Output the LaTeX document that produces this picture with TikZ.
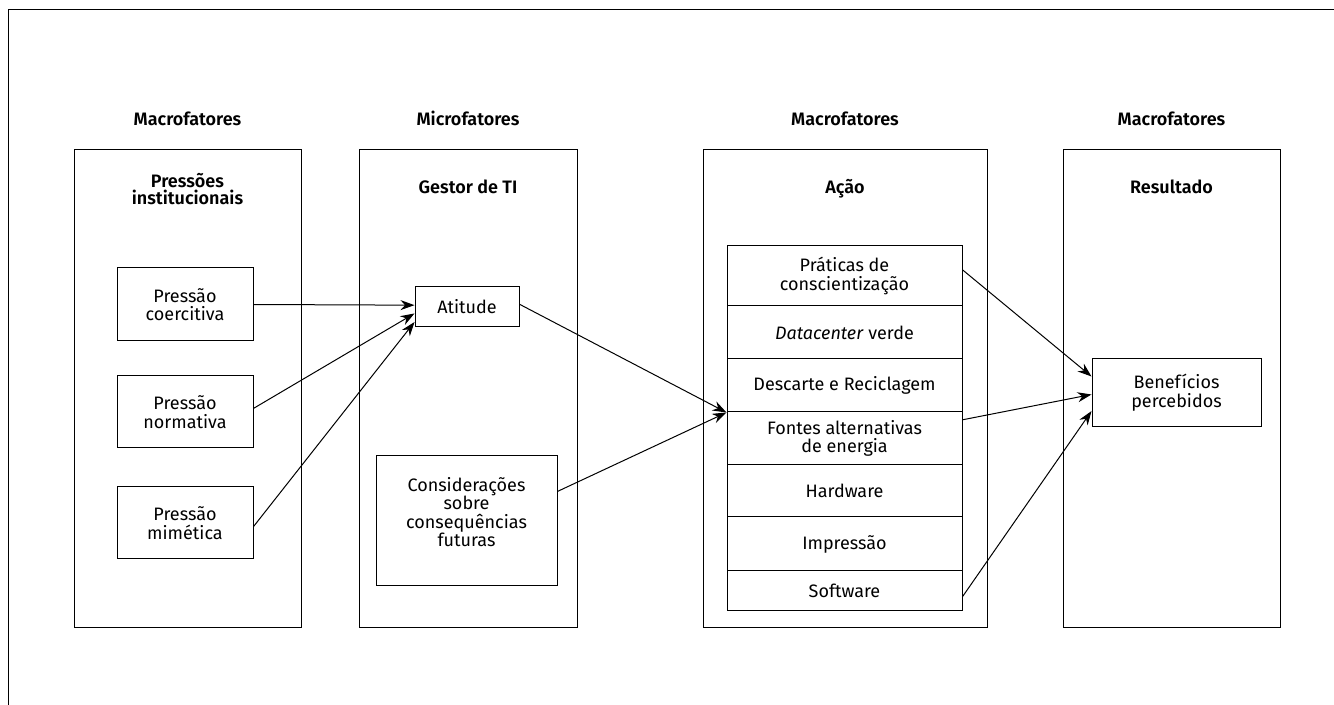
\documentclass[tikz,border=0pt]{standalone}
\usepackage{fontspec}
\setmainfont{Fira Sans}[BoldFont={Fira Sans SemiBold}]
\usetikzlibrary{arrows.meta}

\begin{document}
\begin{tikzpicture}[x=0.5pt, y=-0.5pt, line width=0.5pt]
    \tikzset{ col/.style={draw=black, minimum height=238.5pt, inner sep=0pt} }
    \tikzset{ box/.style={draw=black, align=center, inner sep=0pt, font=\fontsize{9pt}{9.3pt}\selectfont} }
    \tikzset{ row/.style={box, minimum width=117.5pt} }
    \tikzset{ hdr/.style={align=center, font=\fontsize{9pt}{8.3pt}\selectfont\bfseries} }
    \tikzset{ arr/.style={-{Stealth[length=7pt, width=5pt]}} }

    \useasboundingbox (0,0) rectangle (1334,705);
    \draw[] (1334,10) -- (8,10) -- (8,705);

    \node[hdr, anchor=base] (h1) at (187.5,126) {Macrofatores};
    \node[hdr, anchor=base] (h2) at (468.0,126) {Microfatores};
    \node[hdr, anchor=base] (h3) at (845.0,126) {Macrofatores};
    \node[hdr, anchor=base] (h4) at (1171.5,126) {Macrofatores};

    \node[col, minimum width=113.5pt] (c1) at (187.5,388.5) {};
    \node[col, minimum width=109.0pt] (c2) at (468.0,388.5) {};
    \node[col, minimum width=142.0pt] (c3) at (845.0,388.5) {};
    \node[col, minimum width=108.5pt] (c4) at (1171.5,388.5) {};

    \node[hdr] (t1) at (187.5,189) {Pressões\\institucionais};
    \node[hdr, anchor=base] (t2) at (468.0,194) {Gestor de TI};
    \node[hdr, anchor=base] (t3) at (845.0,194) {Ação};
    \node[hdr, anchor=base] (t4) at (1171.5,194) {Resultado};

    \node[box, minimum width=68pt, minimum height=36.5pt] (coercitiva) at (185,304.5) {Pressão\\coercitiva};
    \node[box, minimum width=68pt, minimum height=36pt] (normativa) at (185,412) {Pressão\\normativa};
    \node[box, minimum width=68pt, minimum height=36pt] (mimetica) at (185,523) {Pressão\\mimética};

    \node[box, minimum width=52pt, minimum height=20pt] (atitude) at (467,307) {Atitude};
    \node[box, minimum width=90.5pt, minimum height=65pt, text depth=9pt] (consideracoes) at (466.5,521) {Considerações\\sobre\\consequências\\futuras};

    \node[row, minimum height=30pt] (praticas) at (844.5,276) {Práticas de\\conscientização};
    \node[row, minimum height=26.5pt] (datacenter) at (844.5,332.5) {\textit{Datacenter} verde};
    \node[row, minimum height=26.5pt] (descarte) at (844.5,385.5) {Descarte e Reciclagem};
    \node[row, minimum height=26.5pt] (fontes) at (844.5,438.5) {Fontes alternativas\\de energia};
    \node[row, minimum height=26pt] (hardware) at (844.5,491) {Hardware};
    \node[row, minimum height=27pt] (impressao) at (844.5,544) {Impressão};
    \node[row, minimum height=19.5pt] (software) at (844.5,590.5) {Software};

    \node[box, minimum width=84.5pt, minimum height=34pt] (beneficios) at (1176.5,393) {Benefícios\\percebidos};

    \draw[arr] (coercitiva.east) -- (atitude.178);
    \draw[arr] (normativa.3) -- (atitude.187);
    \draw[arr] (mimetica.-3) -- (atitude.196);
    \draw[arr] (atitude.3) -- (descarte.south west);
    \draw[arr] (consideracoes.18) -- (descarte.south west);
    \draw[arr] (praticas.3) -- (beneficios.169);
    \draw[arr] (fontes.9) -- (beneficios.181);
    \draw[arr] (software.-3) -- (beneficios.192);
\end{tikzpicture}
\end{document}
